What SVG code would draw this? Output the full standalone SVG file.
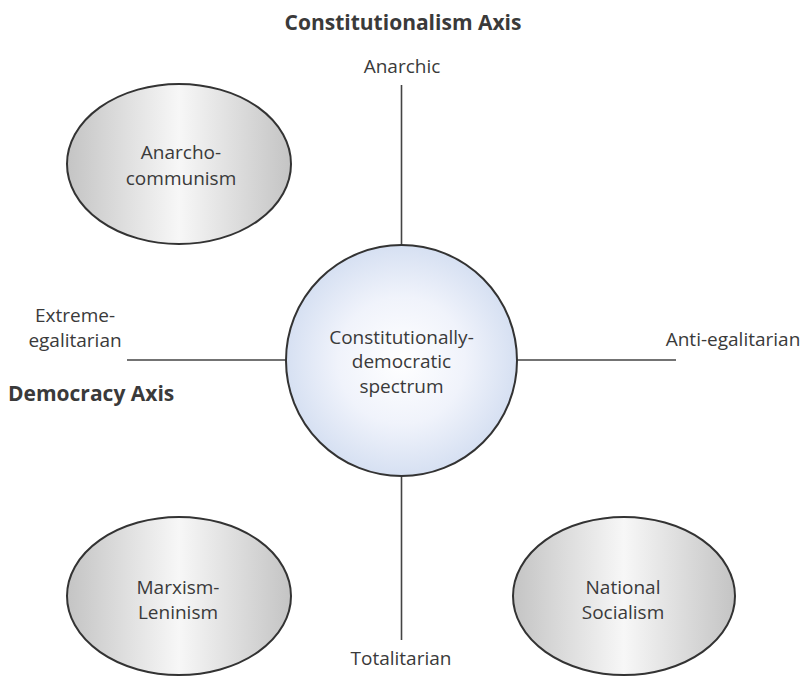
<svg xmlns="http://www.w3.org/2000/svg" width="807" height="678" viewBox="0 0 807 678">
  <defs>
    <linearGradient id="gray" x1="0" y1="0" x2="1" y2="0">
      <stop offset="0" stop-color="#c4c4c4"/>
      <stop offset="0.5" stop-color="#f7f7f7"/>
      <stop offset="1" stop-color="#c4c4c4"/>
    </linearGradient>
    <radialGradient id="blue" cx="0.5" cy="0.5" r="0.5">
      <stop offset="0" stop-color="#ffffff"/>
      <stop offset="0.55" stop-color="#f0f3fb"/>
      <stop offset="1" stop-color="#d6e0f2"/>
    </radialGradient>
    <style>
      .t { font-family: "Open Sans", "Noto Sans", "Liberation Sans", sans-serif; font-size: 19px; fill: #3a3a3a; text-anchor: middle; }
      .b { font-family: "Open Sans", "Noto Sans", "Liberation Sans", sans-serif; font-size: 21px; font-weight: bold; fill: #3a3a3a; }
      .axis { stroke: #444; stroke-width: 1.6; fill: none; }
      .ell { fill: url(#gray); stroke: #333; stroke-width: 2; }
      .circ { fill: url(#blue); stroke: #333; stroke-width: 2; }
    </style>
  </defs>
  <rect width="807" height="678" fill="#ffffff"/>

  <g id="connectors">
    <line class="axis" x1="401.5" y1="85" x2="401.5" y2="245"/>
    <line class="axis" x1="401.5" y1="476" x2="401.5" y2="640"/>
    <line class="axis" x1="127" y1="360" x2="286" y2="360"/>
    <line class="axis" x1="517" y1="360" x2="676" y2="360"/>
  </g>

  <g id="titles">
    <text class="b" x="403" y="30" text-anchor="middle">Constitutionalism Axis</text>
    <text class="b" x="8" y="401">Democracy Axis</text>
  </g>

  <g id="axis-labels">
    <text class="t" x="402" y="73">Anarchic</text>
    <text class="t" x="75" y="322">Extreme-</text>
    <text class="t" x="75" y="347">egalitarian</text>
    <text class="t" x="733" y="346">Anti-egalitarian</text>
    <text class="t" x="401" y="665">Totalitarian</text>
  </g>

  <g id="center">
    <circle class="circ" cx="401.5" cy="360.5" r="115.5"/>
    <text class="t" x="401.5" y="344">Constitutionally-</text>
    <text class="t" x="401.5" y="368">democratic</text>
    <text class="t" x="401.5" y="393">spectrum</text>
  </g>

  <g id="anarcho-communism">
    <ellipse class="ell" cx="179" cy="164" rx="112" ry="80"/>
    <text class="t" x="181" y="159">Anarcho-</text>
    <text class="t" x="181" y="185">communism</text>
  </g>

  <g id="marxism-leninism">
    <ellipse class="ell" cx="179" cy="596" rx="112" ry="79"/>
    <text class="t" x="178" y="594">Marxism-</text>
    <text class="t" x="178" y="619">Leninism</text>
  </g>

  <g id="national-socialism">
    <ellipse class="ell" cx="624" cy="596" rx="111" ry="79"/>
    <text class="t" x="623" y="594">National</text>
    <text class="t" x="623" y="619">Socialism</text>
  </g>
</svg>
